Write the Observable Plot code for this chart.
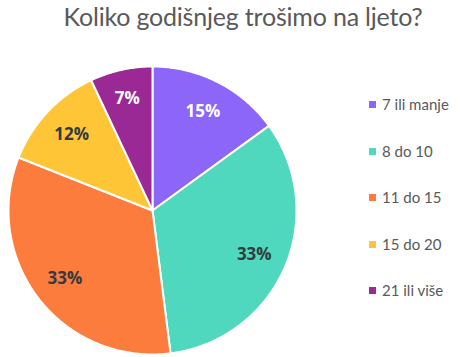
<!DOCTYPE html>
<html>
<head>
<meta charset="utf-8">
<script src="https://cdn.jsdelivr.net/npm/d3@7"></script>
<script src="https://cdn.jsdelivr.net/npm/@observablehq/plot@0.6"></script>
<style>
  html, body { margin: 0; padding: 0; background: #fff; }
  #wrap { position: relative; width: 461px; height: 357px; overflow: hidden; }
  #title { position: absolute; left: 0; top: 1px; width: 486px; text-align: center;
    font-family: Lato, "Noto Sans", sans-serif; font-size: 25px; color: #595959; line-height: 30px; letter-spacing: -0.2px; }
  #chart { position: absolute; left: 0; top: 0; }
  #legend { position: absolute; left: 369px; top: 93px; font-family: Lato, sans-serif; font-size: 15px; color: #595959; }
  .item { height: 46.5px; display: flex; align-items: flex-start; line-height: 22px; }
  .sw { width: 7px; height: 7px; margin-right: 6px; margin-top: 8px; }
</style>
</head>
<body>
<div id="wrap">
  <div id="title">Koliko godišnjeg trošimo na ljeto?</div>
  <div id="chart"></div>
  <div id="legend"></div>
</div>
<script>
const categories = ["7 ili manje", "8 do 10", "11 do 15", "15 do 20", "21 ili više"];
const values = [15, 33, 33, 12, 7];
const colors = ["#8C66F8", "#4FD8BE", "#FC7C3E", "#FEC636", "#9A2895"];
const labelColors = ["#ffffff", "#333a40", "#333a40", "#333a40", "#ffffff"];

const pie = d3.pie().sort(null).value(d => d.value)(categories.map((c, i) => ({cat: c, value: values[i], i})));

const pts = [];
const labels = [];
for (const a of pie) {
  const n = Math.max(8, Math.ceil((a.endAngle - a.startAngle) / 0.01));
  pts.push({cat: a.data.cat, x: 0, y: 0});
  for (let k = 0; k <= n; k++) {
    const t = a.startAngle + (a.endAngle - a.startAngle) * k / n;
    pts.push({cat: a.data.cat, x: Math.sin(t), y: Math.cos(t)});
  }
  pts.push({cat: a.data.cat, x: 0, y: 0});
  const m = (a.startAngle + a.endAngle) / 2;
  const rr = a.data.value < 10 ? 0.8 : 0.77;
  labels.push({cat: a.data.cat, x: rr * Math.sin(m), y: rr * Math.cos(m), text: a.data.value + "%", col: labelColors[a.data.i]});
}

const cx = 152, cy = 210, R = 144;
const plot = Plot.plot({
  width: 461,
  height: 357,
  margin: 0,
  x: {domain: [-1, 1], range: [cx - R, cx + R], axis: null},
  y: {domain: [1, -1], range: [cy - R, cy + R], axis: null},
  color: {domain: categories, range: colors},
  style: {background: "transparent"},
  marks: [
    Plot.line(pts, {x: "x", y: "y", z: "cat", fill: "cat", stroke: "white", strokeWidth: 2, strokeLinejoin: "round"}),
    Plot.text(labels, {x: "x", y: "y", text: "text", fill: "col", fontSize: 17, fontWeight: "bold",
      fontFamily: "'Open Sans', sans-serif"})
  ]
});
document.getElementById("chart").appendChild(plot);

const lg = document.getElementById("legend");
categories.forEach((c, i) => {
  const it = document.createElement("div");
  it.className = "item";
  const sw = document.createElement("div");
  sw.className = "sw";
  sw.style.background = colors[i];
  const tx = document.createElement("span");
  tx.textContent = c;
  it.appendChild(sw); it.appendChild(tx);
  lg.appendChild(it);
});
</script>
</body>
</html>
